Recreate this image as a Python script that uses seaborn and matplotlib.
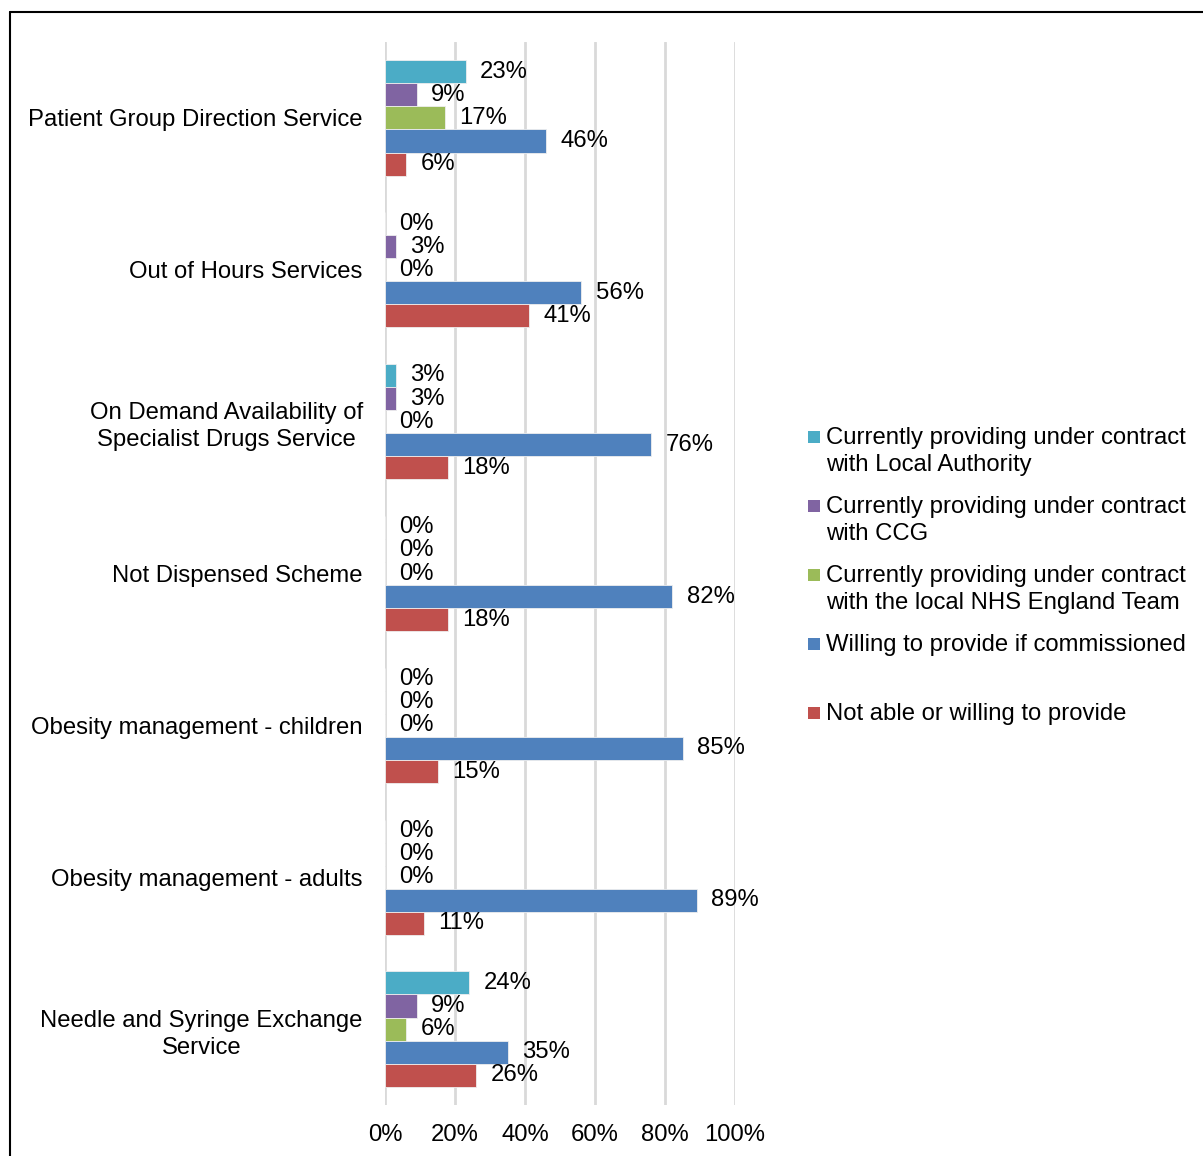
import matplotlib
matplotlib.use("Agg")
import matplotlib.pyplot as plt
import seaborn as sns
import pandas as pd
from matplotlib.patches import Rectangle
from matplotlib.lines import Line2D

categories = [
    "Patient Group Direction Service",
    "Out of Hours Services",
    "On Demand Availability of\nSpecialist Drugs Service",
    "Not Dispensed Scheme",
    "Obesity management - children",
    "Obesity management - adults",
    "Needle and Syringe Exchange\nService",
]
series_names = [
    "Currently providing under contract\nwith Local Authority",
    "Currently providing under contract\nwith CCG",
    "Currently providing under contract\nwith the local NHS England Team",
    "Willing to provide if commissioned",
    "Not able or willing to provide",
]
local_authority = [23, 0, 3, 0, 0, 0, 24]
ccg = [9, 3, 3, 0, 0, 0, 9]
nhs_england = [17, 0, 0, 0, 0, 0, 6]
willing = [46, 56, 76, 82, 85, 89, 35]
not_able = [6, 41, 18, 18, 15, 11, 26]
colors = ["#4BACC6", "#8064A2", "#9BBB59", "#4F81BD", "#C0504D"]
x_ticks = [0, 20, 40, 60, 80, 100]

all_series = [local_authority, ccg, nhs_england, willing, not_able]
rows = []
for name, vals in zip(series_names, all_series):
    for c, v in zip(categories, vals):
        rows.append({"Service": c, "Series": name, "Value": v})
df = pd.DataFrame(rows)

sns.set_theme(style="white")
plt.rcParams["font.family"] = ["Liberation Sans", "DejaVu Sans"]
plt.rcParams["text.color"] = "black"
plt.rcParams["xtick.color"] = "black"
plt.rcParams["ytick.color"] = "black"
FS = 17.2

fig = plt.figure(figsize=(12.03, 11.56), dpi=100)
ax = fig.add_axes([385 / 1203, 1 - 1105 / 1156, 350 / 1203, (1105 - 42) / 1156])

sns.barplot(data=df, y="Service", x="Value", hue="Series", order=categories,
            hue_order=series_names, palette=colors, saturation=1, orient="h",
            width=0.76, edgecolor="#eeeeee", linewidth=0.6, legend=False, ax=ax)

for cont in ax.containers:
    ax.bar_label(cont, labels=[f"{int(round(b.get_width()))}%" for b in cont],
                 padding=10.5, fontsize=FS, color="black")

ax.set_xlim(0, 100)
ax.set_xticks(x_ticks)
ax.set_xticklabels([f"{t}%" for t in x_ticks], fontsize=FS)
ax.set_xlabel("")
ax.set_ylabel("")
ax.grid(axis="x", color="#d9d9d9", linewidth=2)
ax.grid(axis="y", visible=False)
ax.set_axisbelow(True)
for s in ax.spines.values():
    s.set_visible(False)
ax.tick_params(axis="x", length=0, pad=14)
ax.tick_params(axis="y", length=0, pad=16)
for lab in ax.get_yticklabels():
    lab.set_fontsize(FS)
    lab.set_multialignment("center")
    lab.set_linespacing(1.3)

# Legend (drawn manually to match the layout)
W, H = 1203, 1156
leg_y = [437, 506, 575, 644, 713]
for name, col, y in zip(series_names, colors, leg_y):
    fig.add_artist(Rectangle((808 / W, 1 - (y + 6) / H), 12 / W, 12 / H,
                             facecolor=col, edgecolor="none", transform=fig.transFigure))
    fig.text(826 / W, 1 - (y - 10) / H, name, fontsize=FS, va="top", ha="left",
             linespacing=1.27)

# Outer frame (left and top edges)
fig.add_artist(Line2D([10 / W, 10 / W], [0, 1 - 12 / H], color="black", linewidth=1.5,
                      transform=fig.transFigure))
fig.add_artist(Line2D([10 / W, 1], [1 - 12 / H, 1 - 12 / H], color="black", linewidth=1.5,
                      transform=fig.transFigure))

fig.savefig("out.png", dpi=100)
